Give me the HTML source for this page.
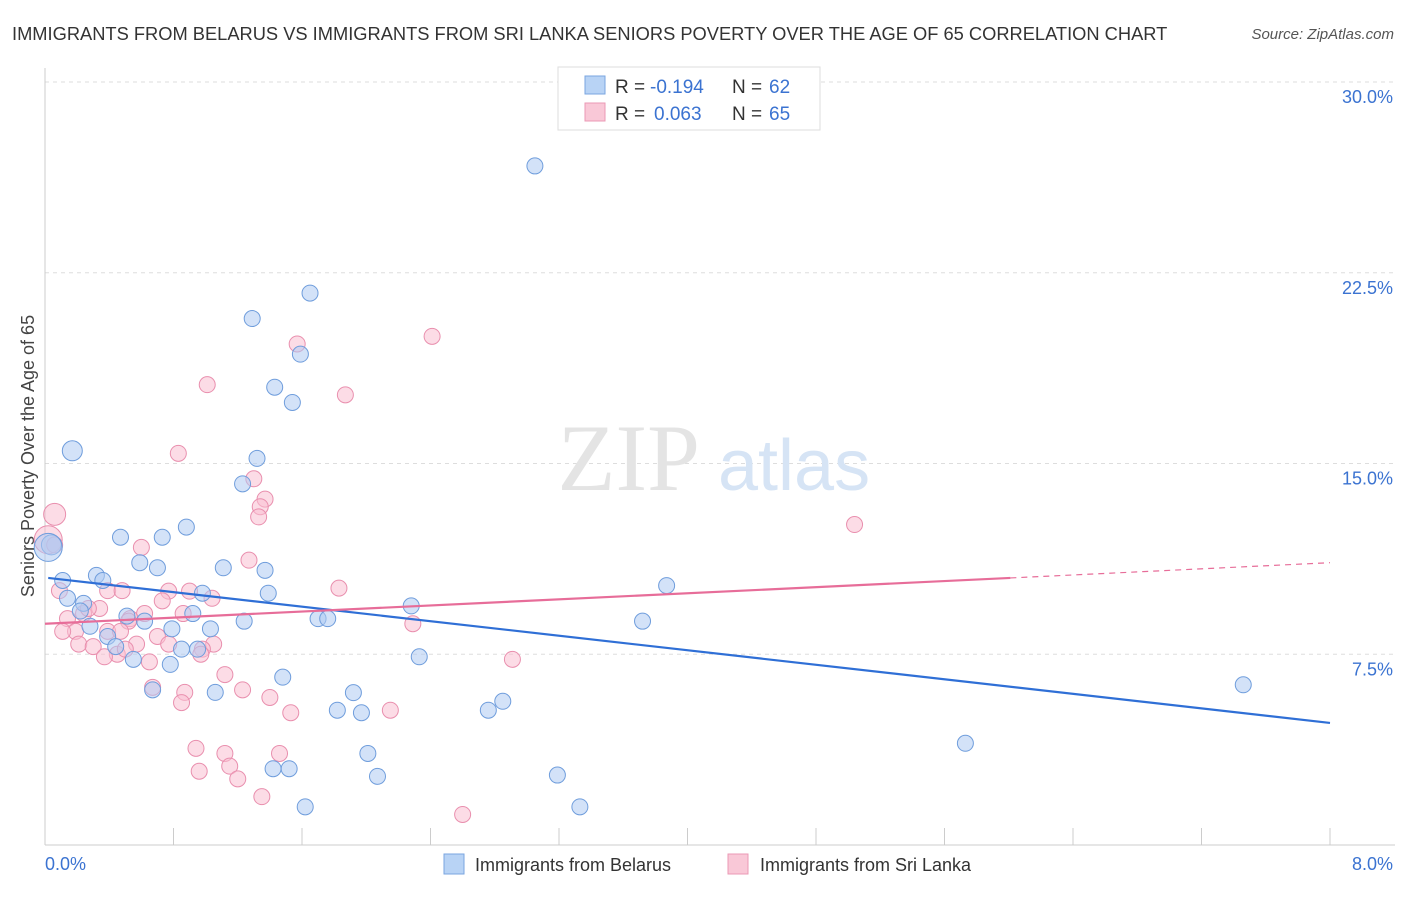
<!DOCTYPE html>
<html><head><meta charset="utf-8"><style>
body{margin:0;background:#fff;font-family:"Liberation Sans",sans-serif;}
</style></head><body>
<svg width="1406" height="892" xmlns="http://www.w3.org/2000/svg">
<text x="12" y="40" font-size="18.3" fill="#333">IMMIGRANTS FROM BELARUS VS IMMIGRANTS FROM SRI LANKA SENIORS POVERTY OVER THE AGE OF 65 CORRELATION CHART</text>
<text x="1394" y="39" font-size="15" fill="#555" font-style="italic" text-anchor="end">Source: ZipAtlas.com</text>
<g id="grid"></g>
<text x="700" y="490" font-size="95" fill="#e4e4e4" font-family="Liberation Serif" text-anchor="end">ZIP</text>
<text x="718" y="490" font-size="72" fill="#d6e4f5">atlas</text>
<line x1="45" y1="68" x2="45" y2="845" stroke="#ccc"/>
<line x1="45" y1="845" x2="1395" y2="845" stroke="#ccc"/>
<g id="ticks"></g>
<g id="ylabels"></g>
<text x="45" y="870" font-size="18" fill="#3b73d1">0.0%</text>
<text x="1393" y="870" font-size="18" fill="#3b73d1" text-anchor="end">8.0%</text>
<text transform="translate(34,456) rotate(-90)" font-size="18" fill="#444" text-anchor="middle">Seniors Poverty Over the Age of 65</text>
<g id="pink"></g>
<g id="blue"></g>
<g id="lines"></g>
<g>
<rect x="558" y="67" width="262" height="63" fill="#fff" stroke="#ddd"/>
<rect x="585" y="76" width="20" height="18" fill="#b8d3f5" stroke="#7aa6e0"/>
<rect x="585" y="103" width="20" height="18" fill="#f9c8d7" stroke="#eb99b4"/>
<text x="615" y="93" font-size="19" fill="#333">R =</text>
<text x="650" y="93" font-size="19" fill="#3b73d1">-0.194</text>
<text x="732" y="93" font-size="19" fill="#333">N =</text>
<text x="769" y="93" font-size="19" fill="#3b73d1">62</text>
<text x="615" y="120" font-size="19" fill="#333">R =</text>
<text x="654" y="120" font-size="19" fill="#3b73d1">0.063</text>
<text x="732" y="120" font-size="19" fill="#333">N =</text>
<text x="769" y="120" font-size="19" fill="#3b73d1">65</text>
</g>
<g>
<rect x="444" y="854" width="20" height="20" fill="#b8d3f5" stroke="#7aa6e0"/>
<text x="475" y="871" font-size="18" fill="#333">Immigrants from Belarus</text>
<rect x="728" y="854" width="20" height="20" fill="#f9c8d7" stroke="#eb99b4"/>
<text x="760" y="871" font-size="18" fill="#333">Immigrants from Sri Lanka</text>
</g>
</svg>
<script>
const yTicks=[7.5,15,22.5,30];
const yTickLabels=["7.5%","15.0%","22.5%","30.0%"];
const xTicks=[0,0.8,1.6,2.4,3.2,4,4.8,5.6,6.4,7.2,8];
const belarusX=[3.05,1.65,1.29,1.59,1.43,1.54,0.17,1.32,1.23,0.88,0.47,0.73,0.04,0.02,0.59,0.7,1.11,1.37,0.11,0.32,0.36,1.39,3.87,0.14,0.98,0.24,0.22,0.51,0.92,0.62,1.24,1.70,1.76,2.28,3.72,0.28,0.79,1.03,0.39,0.44,0.85,0.95,0.55,0.78,2.33,1.48,0.67,1.06,1.92,2.85,1.82,1.97,2.76,7.46,5.73,2.01,1.42,1.52,2.07,3.19,1.62,3.33];
const belarusY=[26.7,21.7,20.7,19.3,18.0,17.4,15.5,15.2,14.2,12.5,12.1,12.1,11.8,11.7,11.1,10.9,10.9,10.8,10.4,10.6,10.4,9.9,10.2,9.7,9.9,9.5,9.2,9.0,9.1,8.8,8.8,8.9,8.9,9.4,8.8,8.6,8.5,8.5,8.2,7.8,7.7,7.7,7.3,7.1,7.4,6.6,6.1,6.0,5.99,5.65,5.3,5.2,5.3,6.3,4.0,3.6,3.0,3.0,2.7,2.75,1.5,1.5];
const belarusR=[8,8,8,8,8,8,10,8,8,8,8,8,10,14,8,8,8,8,8,8,8,8,8,8,8,8,8,8,8,8,8,8,8,8,8,8,8,8,8,8,8,8,8,8,8,8,8,8,8,8,8,8,8,8,8,8,8,8,8,8,8,8];
const lankaX=[2.41,1.57,1.01,1.87,0.83,1.30,1.37,1.34,1.33,0.06,0.02,0.06,0.6,1.27,5.04,0.09,0.39,0.48,0.77,0.90,1.83,1.04,0.73,0.34,0.24,0.62,0.14,0.53,0.86,0.52,2.29,0.19,0.11,0.39,0.47,0.70,0.21,0.30,0.57,0.77,1.05,0.98,0.45,0.37,0.65,2.91,1.12,0.87,1.23,0.85,1.40,1.53,2.15,0.94,1.12,1.46,1.15,0.96,1.20,1.35,2.60,0.27,0.5,0.97,0.67];
const lankaY=[20.0,19.7,18.1,17.7,15.4,14.4,13.6,13.3,12.9,13.0,12.0,11.8,11.7,11.2,12.6,10.0,10.0,10.0,9.98,9.98,10.1,9.7,9.6,9.3,9.1,9.1,8.9,8.9,9.1,8.8,8.7,8.4,8.4,8.4,8.4,8.2,7.9,7.8,7.9,7.9,7.9,7.7,7.5,7.4,7.2,7.3,6.7,6.0,6.1,5.6,5.8,5.2,5.3,3.8,3.6,3.6,3.1,2.9,2.6,1.9,1.2,9.3,7.7,7.5,6.2];
const lankaR=[8,8,8,8,8,8,8,8,8,11,14,8,8,8,8,8,8,8,8,8,8,8,8,8,8,8,8,8,8,8,8,8,8,8,8,8,8,8,8,8,8,8,8,8,8,8,8,8,8,8,8,8,8,8,8,8,8,8,8,8,8,8,8,8,8];
const belarusTrend=[[0.02,10.5],[8,4.8]];
const lankaTrend=[[0,8.7],[6.01,10.5],[8,11.1]];
const NS="http://www.w3.org/2000/svg";
const X=v=>45+v*(1330-45)/8, Y=v=>845-v*(845-82)/30;
function mk(t,a){const e=document.createElementNS(NS,t);for(const k in a)e.setAttribute(k,a[k]);return e;}
const grid=document.getElementById('grid'),yl=document.getElementById('ylabels'),tk=document.getElementById('ticks');
yTicks.forEach((v,i)=>{const l=mk('line',{x1:45,x2:1395,y1:Y(v),y2:Y(v),stroke:'#ddd','stroke-dasharray':'4,4'});

grid.appendChild(l);
const t=mk('text',{x:1393,y:Y(v)+21,'font-size':18,fill:'#3b73d1','text-anchor':'end'});t.textContent=yTickLabels[i];

yl.appendChild(t);});
xTicks.forEach(v=>{const l=mk('line',{x1:X(v),x2:X(v),y1:828,y2:845,stroke:'#ccc'});

tk.appendChild(l);});
function pts(g,xs,ys,rs,f,s){xs.forEach((x,i)=>{const c=mk('circle',{cx:X(x),cy:Y(ys[i]),r:rs[i],fill:f,'fill-opacity':0.55,stroke:s,'stroke-width':1});

g.appendChild(c);});}
pts(document.getElementById('pink'),lankaX,lankaY,lankaR,'#f9c0d2','#e98fae');
pts(document.getElementById('blue'),belarusX,belarusY,belarusR,'#aecbf2','#6f9ddc');
const L=document.getElementById('lines');
let a=mk('line',{x1:X(belarusTrend[0][0]),y1:Y(belarusTrend[0][1]),x2:X(belarusTrend[1][0]),y2:Y(belarusTrend[1][1]),stroke:'#2f6fd6','stroke-width':2.2});

L.appendChild(a);
let b=mk('line',{x1:X(lankaTrend[0][0]),y1:Y(lankaTrend[0][1]),x2:X(lankaTrend[1][0]),y2:Y(lankaTrend[1][1]),stroke:'#e76d99','stroke-width':2.2});

L.appendChild(b);
let c=mk('line',{x1:X(lankaTrend[1][0]),y1:Y(lankaTrend[1][1]),x2:X(lankaTrend[2][0]),y2:Y(lankaTrend[2][1]),stroke:'#e76d99','stroke-width':1.2,'stroke-dasharray':'6,5'});

L.appendChild(c);
</script>
</body></html>
